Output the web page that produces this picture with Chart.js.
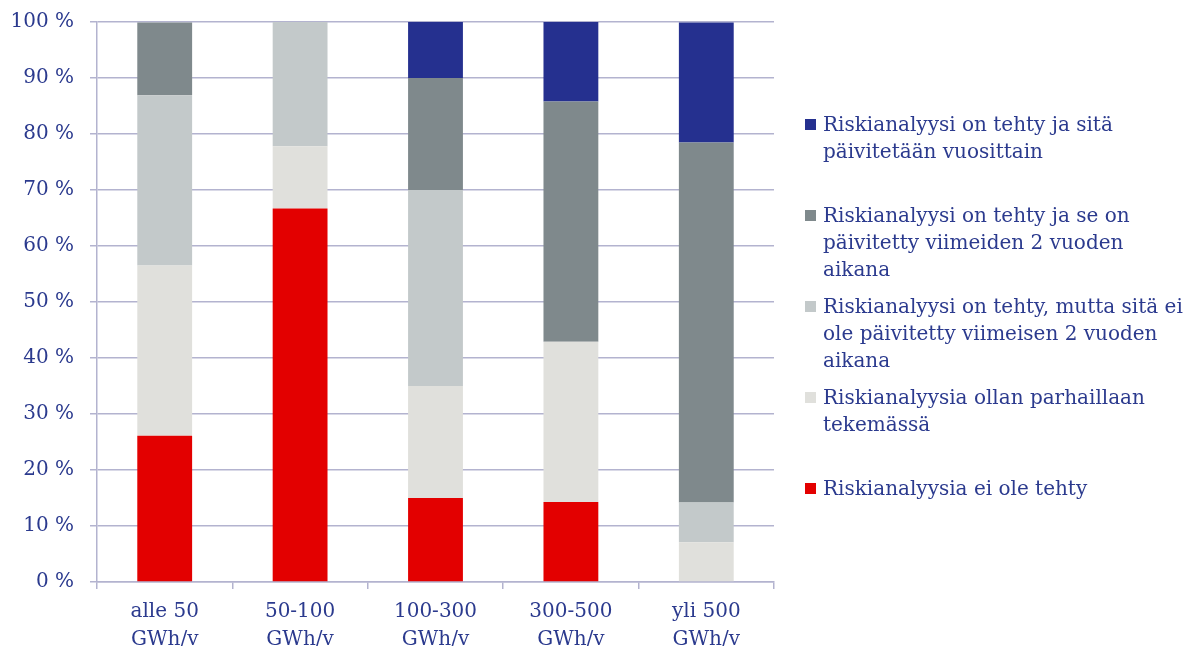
<!DOCTYPE html>
<html>
<head>
<meta charset="utf-8">
<script src="https://cdn.jsdelivr.net/npm/chart.js@4.4.1/dist/chart.umd.min.js"></script>
<style>
  html, body { margin: 0; padding: 0; background: #fff; }
  #wrap { position: relative; width: 1192px; height: 646px; }
  #chart { position: absolute; left: 0; top: 0; }
  #legend { position: absolute; left: 805px; top: 111px; font-family: "DejaVu Serif", serif; font-size: 20px; color: #2B3A8E; }
  .item { position: relative; height: 91px; }
  .box { position: absolute; left: 0; top: 8px; width: 11px; height: 11px; }
  .txt { position: absolute; left: 18px; top: 0; line-height: 27px; white-space: pre; }
</style>
</head>
<body>
<div id="wrap">
  <canvas id="chart" width="1192" height="646"></canvas>
  <div id="legend"></div>
</div>
<script>
const categories = [["alle 50", "GWh/v"], ["50-100", "GWh/v"], ["100-300", "GWh/v"], ["300-500", "GWh/v"], ["yli 500", "GWh/v"]];
const seriesLabels = [
  "Riskianalyysia ei ole tehty",
  "Riskianalyysia ollan parhaillaan\ntekemässä",
  "Riskianalyysi on tehty, mutta sitä ei\nole päivitetty viimeisen 2 vuoden\naikana",
  "Riskianalyysi on tehty ja se on\npäivitetty viimeiden 2 vuoden\naikana",
  "Riskianalyysi on tehty ja sitä\npäivitetään vuosittain"
];
const eiTehty      = [26.1, 66.7, 15.0, 14.3, 0.0];
const tekemassa    = [30.4, 11.1, 20.0, 28.6, 7.1];
const eiPaivitetty = [30.4, 22.2, 35.0, 0.0, 7.1];
const paivitetty2v = [13.0, 0.0, 20.0, 42.9, 64.3];
const vuosittain   = [0.0, 0.0, 10.0, 14.3, 21.4];
const yTicks = [0, 10, 20, 30, 40, 50, 60, 70, 80, 90, 100];
const colors = ["#E30000", "#E0E0DC", "#C3C9CA", "#7F898C", "#25308F"];

const values = [eiTehty, tekemassa, eiPaivitetty, paivitetty2v, vuosittain];
const textColor = "#2B3A8E";
const gridColor = "#B3B3CF";
const fontFam = "'DejaVu Serif', serif";

const chart = new Chart(document.getElementById("chart"), {
  type: "bar",
  data: {
    labels: categories,
    datasets: values.map((v, i) => ({
      label: seriesLabels[i],
      data: v,
      backgroundColor: colors[i],
      borderWidth: 0,
      barPercentage: 1.0,
      categoryPercentage: 0.405
    }))
  },
  options: {
    responsive: false,
    animation: false,
    layout: { padding: { top: 22, right: 418, bottom: 0, left: 0 } },
    plugins: { legend: { display: false }, tooltip: { enabled: false } },
    scales: {
      x: {
        stacked: true,
        grid: { display: true, drawOnChartArea: false, drawTicks: true, tickLength: 7, color: gridColor, lineWidth: 1.5 },
        border: { display: true, color: gridColor, width: 1.5 },
        ticks: { color: textColor, font: { family: fontFam, size: 20, lineHeight: 1.4 }, padding: 9, maxRotation: 0 },
        afterFit: s => { s.height = 64; }
      },
      y: {
        stacked: true,
        min: 0, max: 100,
        afterBuildTicks: s => { s.ticks = yTicks.map(v => ({ value: v })); },
        grid: { color: gridColor, lineWidth: 1.5, tickLength: 7 },
        border: { display: true, color: gridColor, width: 1.5 },
        ticks: { color: textColor, font: { family: fontFam, size: 20 }, padding: 16, callback: v => v + " %" },
        afterFit: s => { s.width = 97; s.paddingTop = 12; s.paddingBottom = 12; }
      }
    }
  }
});

const leg = document.getElementById("legend");
for (let i = values.length - 1; i >= 0; i--) {
  const it = document.createElement("div");
  it.className = "item";
  const b = document.createElement("div");
  b.className = "box";
  b.style.background = colors[i];
  const t = document.createElement("div");
  t.className = "txt";
  t.textContent = seriesLabels[i];
  it.appendChild(b); it.appendChild(t);
  leg.appendChild(it);
}
</script>
</body>
</html>
